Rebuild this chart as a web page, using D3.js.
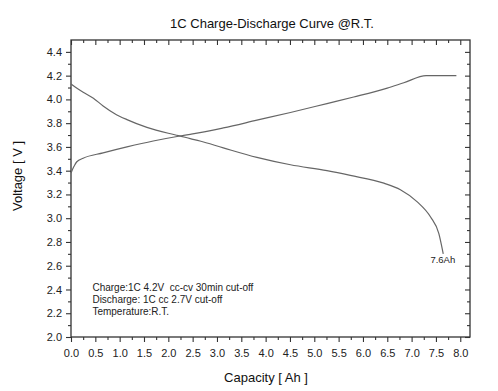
<!DOCTYPE html>
<html>
<head>
<meta charset="utf-8">
<script src="https://cdn.jsdelivr.net/npm/d3@7"></script>
<style>
  body { margin: 0; background: #fff; }
  svg { font-family: "Liberation Sans", Arial, sans-serif; }
  .axis path { display: none; }
  .axis line { stroke: #333; stroke-width: 1.1; }
  .axis text { font-size: 11px; fill: #222; }
</style>
</head>
<body>
<svg id="chart" width="498" height="391"></svg>
<script>
// discharge curve (capacity Ah, voltage V)
const dischargeCap = [0, 0.1, 0.25, 0.46, 0.66, 0.9, 1.15, 1.56, 2.0, 2.21, 2.45, 2.65, 3.13, 3.82, 4.51, 5.26, 5.74, 6.43, 6.77, 7.11, 7.39, 7.56, 7.65];
const dischargeV   = [4.13, 4.10, 4.06, 4.01, 3.945, 3.88, 3.83, 3.765, 3.715, 3.695, 3.67, 3.65, 3.592, 3.512, 3.45, 3.40, 3.36, 3.295, 3.24, 3.14, 3.01, 2.87, 2.70];

// charge curve
const chargeCap = [0, 0.03, 0.08, 0.12, 0.25, 0.66, 1.15, 1.69, 2.21, 2.45, 2.65, 3.13, 3.82, 4.51, 5.26, 5.81, 6.50, 6.84, 7.30, 7.92];
const chargeV   = [3.38, 3.41, 3.45, 3.475, 3.505, 3.55, 3.60, 3.65, 3.69, 3.706, 3.72, 3.76, 3.825, 3.89, 3.965, 4.02, 4.095, 4.14, 4.20, 4.20];

const xMajor = d3.range(0, 8.01, 0.5);
const xMinor = d3.range(0.25, 8.2, 0.5);
const yMajor = d3.range(2.0, 4.41, 0.2);
const yMinor = d3.range(2.1, 4.5, 0.2);

const notes = [
  "Charge:1C 4.2V\u00a0\u00a0cc-cv 30min cut-off",
  "Discharge: 1C cc 2.7V cut-off",
  "Temperature:R.T."
];

const margin = { top: 40, right: 28, bottom: 54, left: 71 };
const width = 498, height = 391;
const svg = d3.select("#chart");

const x = d3.scaleLinear().domain([0, 8.2]).range([margin.left, width - margin.right]);
const y = d3.scaleLinear().domain([2.0, 4.5]).range([height - margin.bottom, margin.top]);

const fmt = d3.format(".1f");

// left axis (ticks outward)
svg.append("g").attr("class", "axis")
  .attr("transform", `translate(${margin.left},0)`)
  .call(d3.axisLeft(y).tickValues(yMajor).tickFormat(fmt).tickSize(5).tickPadding(4));
svg.append("g").attr("class", "axis")
  .attr("transform", `translate(${margin.left},0)`)
  .call(d3.axisLeft(y).tickValues(yMinor).tickFormat("").tickSize(3));

// right axis (ticks inward)
svg.append("g").attr("class", "axis")
  .attr("transform", `translate(${width - margin.right},0)`)
  .call(d3.axisRight(y).tickValues(yMajor).tickFormat("").tickSize(-5));
svg.append("g").attr("class", "axis")
  .attr("transform", `translate(${width - margin.right},0)`)
  .call(d3.axisRight(y).tickValues(yMinor).tickFormat("").tickSize(-3));

// bottom axis (ticks outward)
svg.append("g").attr("class", "axis")
  .attr("transform", `translate(0,${height - margin.bottom})`)
  .call(d3.axisBottom(x).tickValues(xMajor).tickFormat(fmt).tickSize(5).tickPadding(7));
svg.append("g").attr("class", "axis")
  .attr("transform", `translate(0,${height - margin.bottom})`)
  .call(d3.axisBottom(x).tickValues(xMinor).tickFormat("").tickSize(3));

// top axis (ticks inward)
svg.append("g").attr("class", "axis")
  .attr("transform", `translate(0,${margin.top})`)
  .call(d3.axisTop(x).tickValues(xMajor).tickFormat("").tickSize(-5));
svg.append("g").attr("class", "axis")
  .attr("transform", `translate(0,${margin.top})`)
  .call(d3.axisTop(x).tickValues(xMinor).tickFormat("").tickSize(-3));

// frame
svg.append("rect")
  .attr("x", margin.left).attr("y", margin.top)
  .attr("width", width - margin.left - margin.right)
  .attr("height", height - margin.top - margin.bottom)
  .attr("fill", "none").attr("stroke", "#333").attr("stroke-width", 1.3);

const line = d3.line()
  .x(d => x(d[0]))
  .y(d => y(d[1]))
  .curve(d3.curveMonotoneX);

svg.append("path")
  .datum(d3.zip(dischargeCap, dischargeV))
  .attr("d", line)
  .attr("fill", "none").attr("stroke", "#666").attr("stroke-width", 1.2);

svg.append("path")
  .datum(d3.zip(chargeCap, chargeV))
  .attr("d", line)
  .attr("fill", "none").attr("stroke", "#666").attr("stroke-width", 1.2);

// end label
svg.append("text")
  .attr("x", x(7.65) + 12).attr("y", y(2.62))
  .attr("text-anchor", "end")
  .attr("font-size", 9.5).attr("fill", "#222")
  .text("7.6Ah");

// condition notes
svg.selectAll(".note").data(notes).join("text")
  .attr("class", "note")
  .attr("x", x(0.44))
  .attr("y", (d, i) => y(2.39) + i * 12.3)
  .attr("font-size", 10).attr("fill", "#222")
  .text(d => d);

// title and axis titles
svg.append("text")
  .attr("x", 272).attr("y", 28)
  .attr("text-anchor", "middle")
  .attr("font-size", 13).attr("fill", "#111")
  .text("1C Charge-Discharge Curve @R.T.");

svg.append("text")
  .attr("x", 266).attr("y", 382)
  .attr("text-anchor", "middle")
  .attr("font-size", 13).attr("fill", "#111")
  .text("Capacity [ Ah ]");

svg.append("text")
  .attr("transform", "translate(22,176) rotate(-90)")
  .attr("text-anchor", "middle")
  .attr("font-size", 13).attr("fill", "#111")
  .text("Voltage [ V ]");
</script>
</body>
</html>
